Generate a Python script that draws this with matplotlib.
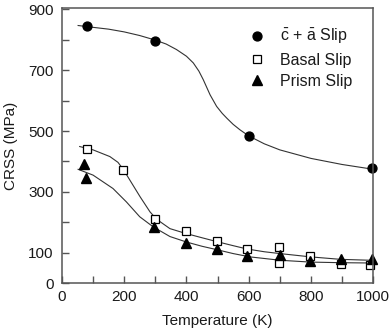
import numpy as np
import matplotlib
matplotlib.use('Agg')
import matplotlib.pyplot as plt

plt.rcParams['font.family'] = ['Liberation Sans', 'DejaVu Sans']
plt.rcParams['mathtext.fontset'] = 'custom'
plt.rcParams['mathtext.rm'] = 'Liberation Sans'

# measured points
ca_x = [82, 300, 601, 995]
ca_y = [845, 796, 482, 380]
basal_x = [80, 197, 300, 400, 498, 596, 699, 699, 798, 897, 991]
basal_y = [440, 372, 210, 172, 137, 112, 119, 67, 89, 64, 61]
prism_x = [71, 76, 296, 398, 497, 595, 701, 798, 897, 997]
prism_y = [391, 344, 185, 132, 113, 88, 91, 71, 80, 80]

# fitted curves
ca_fit_x = [52, 100, 150, 200, 250, 300, 335, 368, 400, 422, 440, 454, 476, 497, 515, 530, 550, 572, 600, 650, 700, 800, 900, 995]
ca_fit_y = [847, 841, 835, 826, 814, 799, 786, 768, 746, 724, 697, 669, 619, 581, 558, 542, 522, 504, 484, 458, 438, 410, 390, 375]
basal_fit_x = [57, 100, 154, 180, 197, 218, 251, 283, 304, 347, 395, 450, 495, 550, 595, 650, 700, 800, 895, 991]
basal_fit_y = [449, 438, 416, 397, 374, 339, 284, 234, 210, 179, 164, 149, 137, 123, 112, 103, 97, 86, 78, 75]
prism_fit_x = [52, 100, 164, 207, 250, 293, 347, 400, 450, 497, 550, 605, 701, 798, 895, 991]
prism_fit_y = [374, 355, 311, 267, 218, 185, 153, 135, 121, 110, 97, 86, 75, 69, 67, 66]

xticks = list(range(0, 1001, 100))
xlabels = ['0', '', '200', '', '400', '', '600', '', '800', '', '1000']
yticks = list(range(0, 901, 100))
ylabels = ['0', '100', '', '300', '', '500', '', '700', '', '900']

fig = plt.figure(figsize=(3.92, 3.28), dpi=100)
ax = fig.add_axes([0.158, 0.137, 0.794, 0.839])

lc = '#333333'
tc = '#1a1a1a'
ax.plot(ca_fit_x, ca_fit_y, color=lc, lw=0.8)
ax.plot(basal_fit_x, basal_fit_y, color=lc, lw=0.8)
ax.plot(prism_fit_x, prism_fit_y, color=lc, lw=0.8)

ax.plot(ca_x, ca_y, 'o', color='black', ms=6.4, label=r'$\bar{\mathrm{c}}$ + $\bar{\mathrm{a}}$ Slip', clip_on=False)
ax.plot(basal_x, basal_y, 's', mfc='white', mec='black', mew=0.9, ms=5.8, label='Basal Slip', clip_on=False)
ax.plot(prism_x, prism_y, '^', color='black', ms=6.8, label='Prism Slip', clip_on=False)

ax.set_xlim(0, 1000)
ax.set_ylim(0, 905)
ax.set_xticks(xticks)
ax.set_xticklabels(xlabels)
ax.set_yticks(yticks)
ax.set_yticklabels(ylabels)
ax.tick_params(direction='in', length=5, width=1, color='#555555', labelsize=11, labelcolor=tc, pad=5)
ax.tick_params(axis='y', pad=6)
for s in ax.spines.values():
    s.set_color('#555555')
    s.set_linewidth(1.1)

ax.set_xlabel('Temperature (K)', fontsize=11, color=tc, labelpad=7)
ax.set_ylabel('CRSS (MPa)', fontsize=11, color=tc, labelpad=7)

leg = ax.legend(loc='upper left', bbox_to_anchor=(0.60, 0.93), frameon=False, fontsize=11.5,
                handlelength=1.0, handletextpad=0.95, labelspacing=0.4, borderpad=0, borderaxespad=0)
for t in leg.get_texts():
    t.set_color(tc)

fig.savefig('out.png', dpi=100)
